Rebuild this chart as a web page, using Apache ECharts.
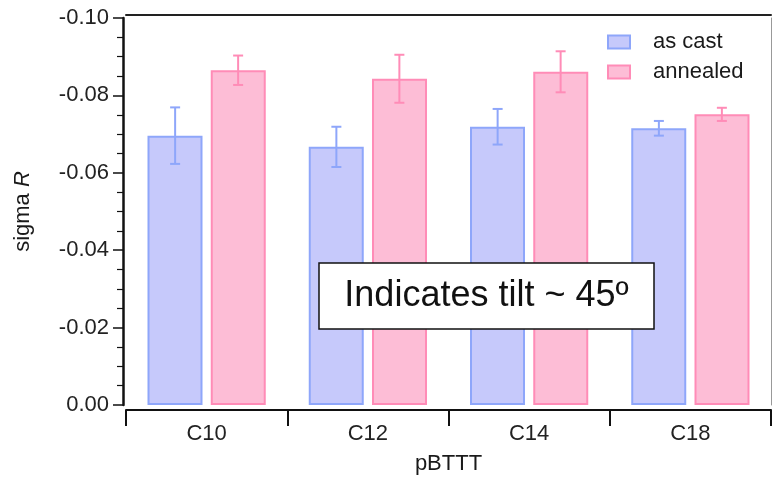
<!DOCTYPE html>
<html>
<head>
<meta charset="utf-8">
<script src="https://cdn.jsdelivr.net/npm/echarts@6/dist/echarts.min.js"></script>
<style>
html,body{margin:0;padding:0;background:#fff;}
#chart{width:774px;height:477px;}
</style>
</head>
<body>
<div id="chart"></div>
<script>
const categories = ['C10', 'C12', 'C14', 'C18'];
const asCast = [-0.0696, -0.0667, -0.0719, -0.0715];
const asCastErr = [0.0073, 0.0052, 0.0046, 0.0019];
const annealed = [-0.0865, -0.0843, -0.0861, -0.0751];
const annealedErr = [0.0038, 0.0062, 0.0053, 0.0017];
const seriesNames = ['as cast', 'annealed'];
const yMin = -0.10, yMax = 0, yStep = 0.02;
const annotationText = 'Indicates tilt ~ 45º';

const FONT = '"Liberation Sans", Arial, Helvetica, sans-serif';
const BLUE_FILL = '#c6c9fb', BLUE_LINE = '#8ea6fa';
const PINK_FILL = '#fdbdd6', PINK_LINE = '#ff8cb7';
const BAR_W = 55, BAR_OFF = 31.5;

function errRender(offset, color) {
  return function (params, api) {
    const i = api.value(0);
    const lo = api.coord([i, api.value(1)]);
    const hi = api.coord([i, api.value(2)]);
    const x = lo[0] + offset, h = 5;
    const st = { stroke: color, lineWidth: 2 };
    return {
      type: 'group',
      children: [
        { type: 'line', shape: { x1: x, y1: lo[1], x2: x, y2: hi[1] }, style: st },
        { type: 'line', shape: { x1: x - h, y1: lo[1], x2: x + h, y2: lo[1] }, style: st },
        { type: 'line', shape: { x1: x - h, y1: hi[1], x2: x + h, y2: hi[1] }, style: st }
      ]
    };
  };
}

const chart = echarts.init(document.getElementById('chart'));
chart.setOption({
  animation: false,
  backgroundColor: '#fff',
  textStyle: { fontFamily: FONT },
  grid: { left: 126, right: 3, top: 18, bottom: 72, containLabel: false, outerBoundsMode: 'none' },
  legend: {
    data: seriesNames,
    orient: 'vertical',
    left: 607, top: 31,
    padding: 0,
    itemWidth: 22, itemHeight: 13, itemGap: 8,
    icon: 'rect',
    textStyle: { fontSize: 22, color: '#1a1a1a', fontFamily: FONT, padding: [0, 0, 0, 18] }
  },
  xAxis: [{
    type: 'category',
    data: categories,
    position: 'bottom',
    offset: 5,
    axisLine: { onZero: false, lineStyle: { color: '#111', width: 2 } },
    axisTick: { show: true, length: 16, lineStyle: { color: '#111', width: 2 } },
    axisLabel: { fontSize: 22, color: '#222', margin: 13, fontFamily: FONT },
    name: 'pBTTT',
    nameLocation: 'middle',
    nameGap: 43,
    nameTextStyle: { fontSize: 22, color: '#1a1a1a', fontFamily: FONT }
  }, {
    type: 'category',
    data: categories,
    position: 'top',
    offset: 3,
    axisLine: { onZero: false, lineStyle: { color: '#222', width: 2 } },
    axisTick: { show: false },
    axisLabel: { show: false }
  }],
  yAxis: [{
    type: 'value',
    min: yMin, max: yMax, interval: yStep,
    inverse: true,
    position: 'left',
    offset: 3,
    axisLine: { show: true, onZero: false, lineStyle: { color: '#111', width: 2.5 } },
    axisTick: { show: true, length: 10, lineStyle: { color: '#111', width: 1.5 } },
    minorTick: { show: true, splitNumber: 4, length: 6, lineStyle: { color: '#111', width: 1.2 } },
    splitLine: { show: false },
    axisLabel: {
      fontSize: 22, color: '#222', margin: 14, fontFamily: FONT,
      formatter: function (v) { return (Math.abs(v) < 1e-9 ? 0 : v).toFixed(2); }
    },
    name: '{n|sigma }{i|R}',
    nameLocation: 'middle',
    nameRotate: 90,
    nameGap: 89,
    nameTextStyle: {
      color: '#1a1a1a',
      rich: {
        n: { fontSize: 22, fontFamily: FONT, color: '#1a1a1a' },
        i: { fontSize: 22, fontFamily: FONT, fontStyle: 'italic', color: '#1a1a1a' }
      }
    }
  }, {
    type: 'value',
    min: yMin, max: yMax, interval: yStep,
    inverse: true,
    position: 'right',
    axisLine: { show: true, onZero: false, lineStyle: { color: '#999', width: 1 } },
    axisTick: { show: false },
    axisLabel: { show: false },
    splitLine: { show: false }
  }],
  series: [{
    name: seriesNames[0],
    type: 'bar',
    data: asCast,
    barWidth: BAR_W,
    barGap: '15%',
    itemStyle: { color: BLUE_FILL, borderColor: BLUE_LINE, borderWidth: 2 }
  }, {
    name: seriesNames[1],
    type: 'bar',
    data: annealed,
    barWidth: BAR_W,
    barGap: '15%',
    itemStyle: { color: PINK_FILL, borderColor: PINK_LINE, borderWidth: 2 }
  }, {
    name: 'as cast error',
    type: 'custom',
    z: 5,
    encode: { x: 0, y: [1, 2] },
    data: categories.map((c, i) => [i, asCast[i] - asCastErr[i], asCast[i] + asCastErr[i]]),
    renderItem: errRender(-BAR_OFF, BLUE_LINE)
  }, {
    name: 'annealed error',
    type: 'custom',
    z: 5,
    encode: { x: 0, y: [1, 2] },
    data: categories.map((c, i) => [i, annealed[i] - annealedErr[i], annealed[i] + annealedErr[i]]),
    renderItem: errRender(BAR_OFF, PINK_LINE)
  }],
  graphic: [{
    type: 'rect',
    z: 100,
    shape: { x: 319, y: 263, width: 335, height: 66 },
    style: { fill: '#fff', stroke: '#111', lineWidth: 1.5 }
  }, {
    type: 'text',
    z: 101,
    x: 486.5, y: 296,
    style: {
      text: annotationText,
      font: '36px ' + FONT,
      fill: '#111',
      align: 'center',
      verticalAlign: 'middle'
    }
  }]
});
</script>
</body>
</html>
